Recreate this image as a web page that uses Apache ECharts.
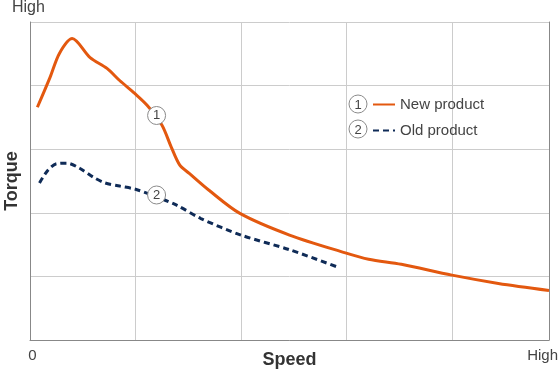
<!DOCTYPE html>
<html>
<head>
<meta charset="utf-8">
<script src="https://cdn.jsdelivr.net/npm/echarts@6/dist/echarts.min.js"></script>
<style>
  html, body { margin: 0; padding: 0; background: #fff; }
  #chart { width: 558px; height: 378px; }
</style>
</head>
<body>
<div id="chart"></div>
<script>
// speed / torque are in relative units (0 .. High)
var newSpeed  = [0.07, 0.19, 0.28, 0.40, 0.57, 0.73, 0.85, 0.99, 1.11, 1.25, 1.34, 1.42, 1.51, 1.70, 1.99, 2.46, 2.99, 3.21, 3.52, 4.00, 4.44, 4.92];
var newTorque = [3.66, 4.13, 4.51, 4.74, 4.44, 4.27, 4.08, 3.88, 3.69, 3.38, 3.03, 2.75, 2.62, 2.35, 1.99, 1.65, 1.37, 1.27, 1.19, 1.02, 0.89, 0.78];
var oldSpeed  = [0.09, 0.17, 0.25, 0.35, 0.47, 0.60, 0.71, 0.85, 1.00, 1.20, 1.39, 1.62, 2.00, 2.46, 2.91];
var oldTorque = [2.47, 2.67, 2.77, 2.78, 2.70, 2.56, 2.47, 2.42, 2.37, 2.25, 2.12, 1.91, 1.65, 1.42, 1.15];
var seriesNames = ['New product', 'Old product'];
var calloutNo = ['1', '2'];
var calloutAt = [[1.20, 3.53], [1.20, 2.28]];

function pairs(xs, ys) {
    return xs.map(function (x, i) { return [x, ys[i]]; });
}

var font = '"Liberation Sans", Arial, sans-serif';

//曲线上的圆圈编号
function callout(i) {
    return {
        symbol: 'circle',
        symbolSize: 18,
        itemStyle: { color: '#fff', borderColor: '#8a8a8a', borderWidth: 1 },
        label: { show: true, position: 'inside', formatter: calloutNo[i], color: '#444', fontSize: 13, fontFamily: font },
        data: [{ coord: calloutAt[i] }]
    };
}

//图例前的圆圈编号
function legendBadge(i, cy) {
    return [
        { type: 'circle', shape: { cx: 358, cy: cy, r: 9 }, style: { fill: '#fff', stroke: '#8a8a8a', lineWidth: 1 } },
        { type: 'text', x: 358, y: cy + 1, style: { text: calloutNo[i], fill: '#444', font: '13px ' + font, align: 'center', verticalAlign: 'middle' } }
    ];
}

var chart = echarts.init(document.getElementById('chart'));
chart.setOption({
    animation: false,
    textStyle: { fontFamily: font },
    grid: { left: 30, right: 9, top: 22, bottom: 38, outerBoundsMode: 'none', containLabel: false },
    legend: {
        orient: 'vertical',
        left: 367,
        top: 92,
        itemWidth: 22,
        itemHeight: 14,
        itemGap: 11,
        itemStyle: { opacity: 0 },
        textStyle: { color: '#444', fontSize: 15 },
        data: seriesNames
    },
    graphic: legendBadge(0, 104).concat(legendBadge(1, 129)).concat([
        { type: 'text', left: 12, top: 0, style: { text: 'High', fill: '#444', font: '16px ' + font } }
    ]),
    xAxis: {
        type: 'value',
        min: 0,
        max: 4.92,
        interval: 1,
        name: 'Speed',
        nameLocation: 'middle',
        nameGap: 11,
        nameMoveOverlap: false,
        nameTextStyle: { color: '#333', fontSize: 18, fontWeight: 'bold' },
        axisLine: { lineStyle: { color: '#888' } },
        axisTick: { show: false },
        splitLine: { lineStyle: { color: '#ccc' } },
        axisLabel: {
            color: '#444',
            fontSize: 15,
            margin: 8,
            showMinLabel: true,
            showMaxLabel: true,
            alignMinLabel: 'center',
            alignMaxLabel: 'right',
            formatter: function (v) {
                if (v === 0) return '{z|0}';
                if (v > 4.5) return '{h|High}';
                return '';
            },
            rich: {
                z: { color: '#444', fontSize: 15, padding: [0, 0, 0, 5] },
                h: { color: '#444', fontSize: 15, padding: [0, -9, 0, 0] }
            }
        }
    },
    yAxis: [{
        type: 'value',
        min: 0,
        max: 5,
        interval: 1,
        name: 'Torque',
        nameLocation: 'middle',
        nameGap: 9,
        nameMoveOverlap: false,
        nameTextStyle: { color: '#333', fontSize: 18, fontWeight: 'bold' },
        axisLine: { show: true, lineStyle: { color: '#888' } },
        axisTick: { show: false },
        axisLabel: { show: false },
        splitLine: { lineStyle: { color: '#ccc' } }
    }, {
        type: 'value',
        position: 'right',
        min: 0,
        max: 5,
        axisLine: { show: true, lineStyle: { color: '#888' } },
        axisTick: { show: false },
        axisLabel: { show: false },
        splitLine: { show: false }
    }],
    series: [{
        name: seriesNames[0],
        type: 'line',
        smooth: 0.3,
        symbol: 'none',
        data: pairs(newSpeed, newTorque),
        lineStyle: { color: '#e3580f', width: 3 },
        itemStyle: { color: '#e3580f' },
        markPoint: callout(0),
        z: 3
    }, {
        name: seriesNames[1],
        type: 'line',
        smooth: 0.3,
        symbol: 'none',
        data: pairs(oldSpeed, oldTorque),
        lineStyle: { color: '#0f2b57', width: 3, type: [6, 4] },
        itemStyle: { color: '#0f2b57' },
        markPoint: callout(1),
        z: 3
    }]
});
</script>
</body>
</html>
